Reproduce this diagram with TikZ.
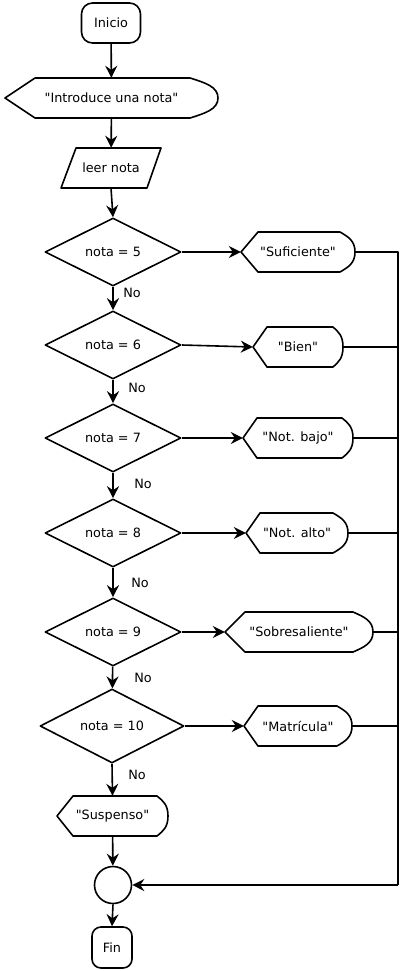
\documentclass[tikz,border=0pt]{standalone}
\usepackage{fontspec}
% a family without the TeX input mapping, so " stays a straight quote
\newfontfamily\flowfont{DejaVu Sans}
\usetikzlibrary{shapes.geometric,arrows.meta,calc}

\tikzset{
  line/.style={line width=1.6pt, line join=round},
  flow/.style={line, -{Stealth[length=12pt,width=12pt,inset=4pt]}},
  txt/.style={font=\flowfont\fontsize{12.8}{15}\selectfont, inner sep=0pt},
  decision/.style={txt, diamond, draw, line, aspect=2,
                   minimum width=136pt, minimum height=68pt},
  terminal/.style={txt, draw, line, rounded corners=11pt},
  nolabel/.style={txt},
}

% display (output) box: name, left, top, right, bottom, left slant, right bulge, text
\newcommand\dispbox[8]{%
  \node[txt, minimum width={(#4)-(#2)}, minimum height={(#5)-(#3)}]
    (#1) at ({((#2)+(#4))/2},{((#3)+(#5))/2}) {#8};
  \pgfmathsetmacro\dmid{((#3)+(#5))/2}
  \pgfmathsetmacro\dh{(#5)-(#3)}
  \draw[line] (#2,\dmid) -- ({(#2)+(#6)},#3) -- ({(#4)-(#7)},#3)
    .. controls ({(#4)-0.45*(#7)},{(#3)+0.12*\dh}) and (#4,{\dmid-0.28*\dh}) .. (#4,\dmid)
    .. controls (#4,{\dmid+0.28*\dh}) and ({(#4)-0.45*(#7)},{(#5)-0.12*\dh}) .. ({(#4)-(#7)},#5)
    -- ({(#2)+(#6)},#5) -- cycle;
}

\begin{document}
\begin{tikzpicture}[x=1pt,y=-1pt]
  \useasboundingbox (0,0) rectangle (400,971);

  % start
  \node[terminal, minimum width=59pt, minimum height=40pt] (ini) at (111,23) {Inicio};

  % prompt and input
  \dispbox{intro}{5}{78}{218}{118}{30}{28}{"Introduce una nota"}
  \node[txt, minimum width=86pt, minimum height=40pt] (leer) at (111,168) {leer nota};
  \draw[line] (76,148) -- (161,148) -- (147,188) -- (61,188) -- cycle;

  % decisions
  \node[decision] (d5)  at (113,252) {nota = 5};
  \node[decision] (d6)  at (113,345) {nota = 6};
  \node[decision] (d7)  at (113,438) {nota = 7};
  \node[decision] (d8)  at (113,533) {nota = 8};
  \node[decision] (d9)  at (113,632) {nota = 9};
  \node[decision, minimum width=144pt, minimum height=74pt] (d10) at (112,726) {nota = 10};

  % results
  \dispbox{suf}{241}{232}{355}{272}{17}{15}{"Suficiente"}
  \dispbox{bien}{253}{327}{343}{367}{14}{10}{"Bien"}
  \dispbox{nbajo}{243}{418}{353}{458}{14}{11}{"Not. bajo"}
  \dispbox{nalto}{246}{513}{348}{553}{14}{15}{"Not. alto"}
  \dispbox{sobre}{225}{612}{373}{652}{20}{20}{"Sobresaliente"}
  \dispbox{matr}{244}{706}{352}{746}{14}{15}{"Matrícula"}
  \dispbox{susp}{57}{796}{168}{836}{16}{11}{"Suspenso"}

  % join and end
  \node[circle, draw, line, minimum size=37pt, inner sep=0pt] (join) at (113,885) {};
  \node[terminal, minimum width=40pt, minimum height=41pt, rounded corners=9pt] (fin) at (112,947.5) {Fin};

  % main flow
  \draw[flow] (ini) -- (intro);
  \draw[flow] (intro) -- (leer);
  \draw[flow] (leer.south) -- (d5.north);
  \draw[flow] (d5) -- (d6);
  \draw[flow] (d6) -- (d7);
  \draw[flow] (d7) -- (d8);
  \draw[flow] (d8) -- (d9);
  \draw[flow] (d9) -- (d10);
  \draw[flow] (d10.south) -- (susp.north);
  \draw[flow] (susp) -- (join);
  \draw[flow] (join.south) -- (fin.north);

  % "No" labels
  \node[nolabel] (no1) at (132,293) {No};
  \node[nolabel] (no2) at (137,388) {No};
  \node[nolabel] (no3) at (143,484) {No};
  \node[nolabel] (no4) at (140,583) {No};
  \node[nolabel] (no5) at (143,678) {No};
  \node[nolabel] (no6) at (137,775) {No};

  % branches to results
  \draw[flow] (d5.east) -- (suf.west);
  \draw[flow] (d6.east) -- (bien.west);
  \draw[flow] (d7.east) -- (nbajo.west);
  \draw[flow] (d8.east) -- (nalto.west);
  \draw[flow] (d9.east) -- (sobre.west);
  \draw[flow] (d10.east) -- (matr.west);

  % collecting bus on the right
  \coordinate (bus) at (398,885);
  \draw[line] (suf.east) -| (bus);
  \draw[line] (bien.east) -- (bien.east -| bus);
  \draw[line] (nbajo.east) -- (nbajo.east -| bus);
  \draw[line] (nalto.east) -- (nalto.east -| bus);
  \draw[line] (sobre.east) -- (sobre.east -| bus);
  \draw[line] (matr.east) -- (matr.east -| bus);
  \draw[flow] (bus) -- (join.east);
\end{tikzpicture}
\end{document}
